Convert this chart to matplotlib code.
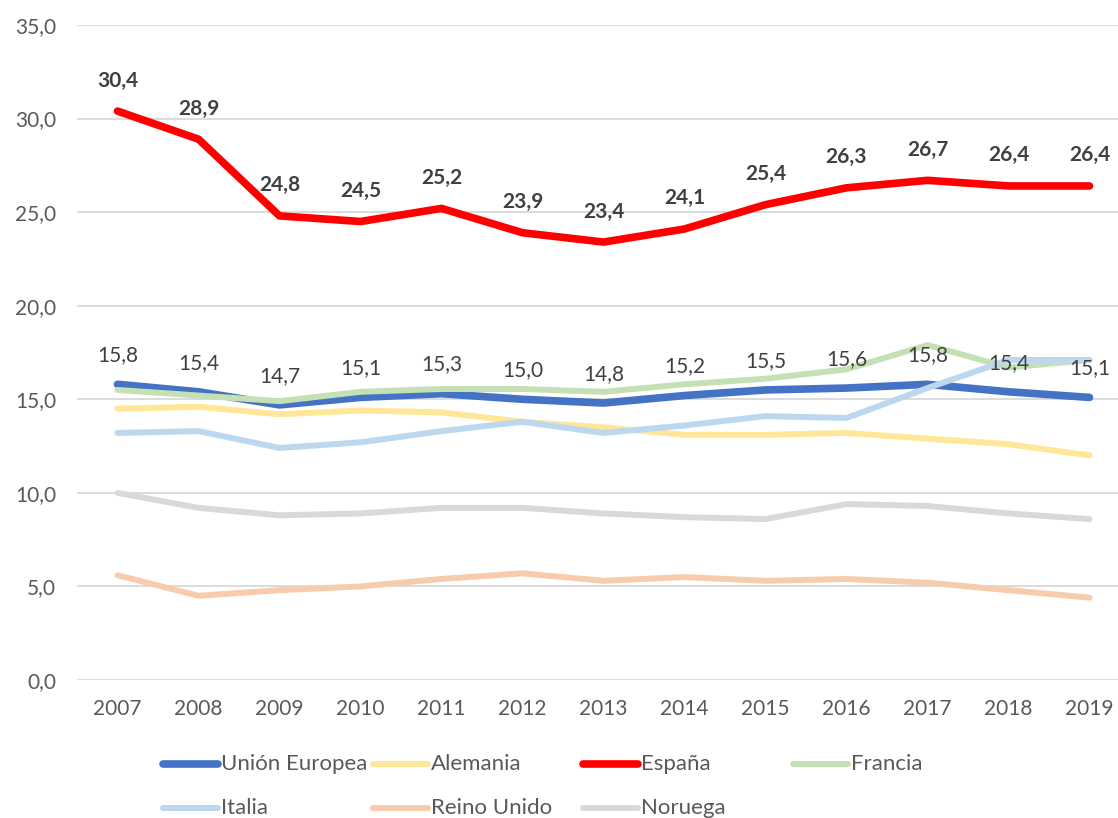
import matplotlib
matplotlib.use("Agg")
import matplotlib.pyplot as plt
from matplotlib.lines import Line2D

years = [2007, 2008, 2009, 2010, 2011, 2012, 2013, 2014, 2015, 2016, 2017, 2018, 2019]

union_europea = [15.8, 15.4, 14.7, 15.1, 15.3, 15.0, 14.8, 15.2, 15.5, 15.6, 15.8, 15.4, 15.1]
alemania = [14.5, 14.6, 14.2, 14.4, 14.3, 13.8, 13.5, 13.1, 13.1, 13.2, 12.9, 12.6, 12.0]
espana = [30.4, 28.9, 24.8, 24.5, 25.2, 23.9, 23.4, 24.1, 25.4, 26.3, 26.7, 26.4, 26.4]
francia = [15.5, 15.2, 14.9, 15.4, 15.55, 15.55, 15.4, 15.8, 16.1, 16.6, 17.9, 16.7, 17.1]
italia = [13.2, 13.3, 12.4, 12.7, 13.3, 13.8, 13.2, 13.6, 14.1, 14.0, 15.6, 17.1, 17.1]
reino_unido = [5.6, 4.5, 4.8, 5.0, 5.4, 5.7, 5.3, 5.5, 5.3, 5.4, 5.2, 4.8, 4.4]
noruega = [10.0, 9.2, 8.8, 8.9, 9.2, 9.2, 8.9, 8.7, 8.6, 9.4, 9.3, 8.9, 8.6]

names = ["Unión Europea", "Alemania", "España", "Francia", "Italia", "Reino Unido", "Noruega"]
values = [union_europea, alemania, espana, francia, italia, reino_unido, noruega]
colors = ["#4472C4", "#FFE699", "#FF0000", "#C5E0B4", "#BDD7EE", "#F8CBAD", "#D9D9D9"]
widths = [5.5, 4.3, 5.5, 4.3, 4.3, 4.3, 4.3]

plt.rcParams["font.family"] = ["Lato", "DejaVu Sans"]

W, H = 1118, 818
fig = plt.figure(figsize=(W / 100, H / 100), dpi=100)
ax = fig.add_axes([77 / W, 1 - 680 / H, (1130 - 77) / W, 655 / H])

for i, (name, vals) in enumerate(zip(names, values)):
    ax.plot(years, vals, color=colors[i], lw=widths[i], solid_capstyle="round",
            solid_joinstyle="round", zorder=2 + i)

# etiquetas de datos
fmt = lambda v: f"{v:.1f}".replace(".", ",")
for x, v in zip(years, union_europea):
    ax.annotate(fmt(v), (x, v), xytext=(0, 21), textcoords="offset points",
                ha="center", va="center", fontsize=15, color="#404040", zorder=20)
for x, v in zip(years, espana):
    ax.annotate(fmt(v), (x, v), xytext=(0, 22), textcoords="offset points",
                ha="center", va="center", fontsize=15, fontweight="bold",
                color="#404040", zorder=20)

ax.set_xlim(2006.5, 2019.5)
ax.set_ylim(0, 35)
ax.set_yticks(range(0, 36, 5))
ax.set_yticklabels([fmt(t) for t in range(0, 36, 5)])
ax.set_xticks(years)
ax.grid(axis="y", color="#D9D9D9", lw=1.3)
ax.set_axisbelow(True)
for s in ax.spines.values():
    s.set_visible(False)
ax.tick_params(axis="both", length=0, labelsize=15, labelcolor="#595959")
ax.tick_params(axis="y", pad=15)
ax.tick_params(axis="x", pad=14)

# leyenda en dos filas
for i, name in enumerate(names):
    col, row = i % 4, i // 4
    x0 = 163 + col * 210
    y0 = 764 + row * 44
    fig.add_artist(Line2D([x0 / W, (x0 + 55) / W], [1 - y0 / H, 1 - y0 / H],
                          color=colors[i], lw=widths[i], solid_capstyle="round"))
    fig.text((x0 + 58) / W, 1 - y0 / H, name, fontsize=16, color="#595959",
             va="center", ha="left")

fig.savefig("out.png", dpi=100)
